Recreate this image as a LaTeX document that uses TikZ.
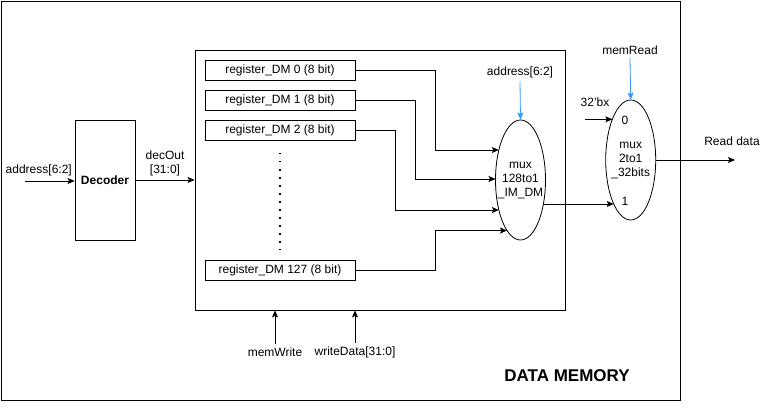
\documentclass[tikz,border=0pt]{standalone}
\usepackage{fontspec}
\setmainfont{Liberation Sans}
\usetikzlibrary{positioning, shapes, arrows, arrows.meta}
\definecolor{ctrlblue}{HTML}{3399FF}

\begin{document}
\begin{tikzpicture}[-,>={Stealth[length=7pt,width=6pt,inset=1.5pt]},x=1pt,y=-1pt,line width=0.8pt,font=\fontsize{12}{14}\selectfont]
        \useasboundingbox (0,0) rectangle (763,409);
        \node at (340.5,200.5) [rectangle,draw,minimum width=679pt,minimum height=399pt] (data_memory) {};
        \node at (567,376) [font=\fontsize{17}{20}\selectfont\bfseries] (dm_title) {DATA MEMORY};

        % decoder
        \node at (105,180) [rectangle,draw,minimum width=60pt,minimum height=120pt] (decoder) {\textbf{Decoder}};
        \node at (2,170) [anchor=west] (addr_in) {address[6:2]};
        \coordinate (addr_start) at (25,181);

        % register file
        \node at (380,180) [rectangle,draw,minimum width=370pt,minimum height=260pt] (ram_block) {};
        \node at (280,70) [rectangle,draw,minimum width=150pt,minimum height=20pt,inner sep=0pt] (reg_0) {register\_DM 0 (8 bit)};
        \node at (280,100) [rectangle,draw,minimum width=150pt,minimum height=20pt,inner sep=0pt] (reg_1) {register\_DM 1 (8 bit)};
        \node at (280,130) [rectangle,draw,minimum width=150pt,minimum height=20pt,inner sep=0pt] (reg_2) {register\_DM 2 (8 bit)};
        \node at (280,270) [rectangle,draw,minimum width=150pt,minimum height=20pt,inner sep=0pt] (reg_127) {register\_DM 127 (8 bit)};
        \draw[dash pattern=on 1.5pt off 6.5pt, line width=1.5pt] (280,153) -- (280,250);

        \node at (275,352) (mem_write) {memWrite};
        \node at (355,352) (write_data) {writeData[31:0]};

        % muxes
        \node at (520.5,180) [ellipse,draw,minimum width=50pt,minimum height=120pt] (mux_dm) {};
        \node at (mux_dm) [align=center,inner sep=0pt] (mux_dm_txt) {mux\\128to1\\\_IM\_DM};
        \node at (520,72) (addr_sel) {address[6:2]};
        \coordinate (mux_dm_in0) at (498.8,150);
        \coordinate (mux_dm_in1) at (495.5,179);
        \coordinate (mux_dm_in2) at (498.8,210);
        \coordinate (mux_dm_in3) at (507,230.5);
        \coordinate (mux_dm_out) at (543.4,204);

        \node at (630.7,160) [ellipse,draw,minimum width=50pt,minimum height=120pt] (mux_rd) {};
        \node at (mux_rd) [align=center,inner sep=0pt] (mux_rd_txt) {mux\\2to1\\\_32bits};
        \node at (625,120) (mux_rd_0) {0};
        \node at (625,201) (mux_rd_1) {1};
        \node at (630,50) (mem_read) {memRead};
        \node at (595,102) (const_x) {32'bx};
        \coordinate (const_start) at (585,119.3);
        \coordinate (mux_rd_in0) at (612.4,119.3);
        \coordinate (mux_rd_in1) at (613.7,204);
        \node at (732,141) (read_data) {Read data};
        \coordinate (read_end) at (735,160);

        \draw   (addr_start)    edge[->]    (decoder.west |- addr_start)
                (decoder.east)  edge[->]    node[above, align=center]{decOut\\{[31:0]}}     (decoder.east -| ram_block.west)
                (mem_write.north)   edge[->]    (mem_write.north |- ram_block.south)
                (write_data.north)  edge[->]    (write_data.north |- ram_block.south)
                (const_start)   edge[->]    (mux_rd_in0)
                (mux_dm_out)    edge[->]    (mux_rd_in1)
                (mux_rd.east)   edge[->]    (read_end)
            ;
        \draw[->, ctrlblue] (addr_sel.south) -- (mux_dm.north);
        \draw[->, ctrlblue] (mem_read.south) -- (mux_rd.north);

        \draw[->] (reg_0.east) -- ++(80,0) |- (mux_dm_in0);
        \draw[->] (reg_1.east) -- ++(60,0) |- (mux_dm_in1);
        \draw[->] (reg_2.east) -- ++(40,0) |- (mux_dm_in2);
        \draw[->] (reg_127.east) -- ++(80,0) |- (mux_dm_in3);
    \end{tikzpicture}
\end{document}
